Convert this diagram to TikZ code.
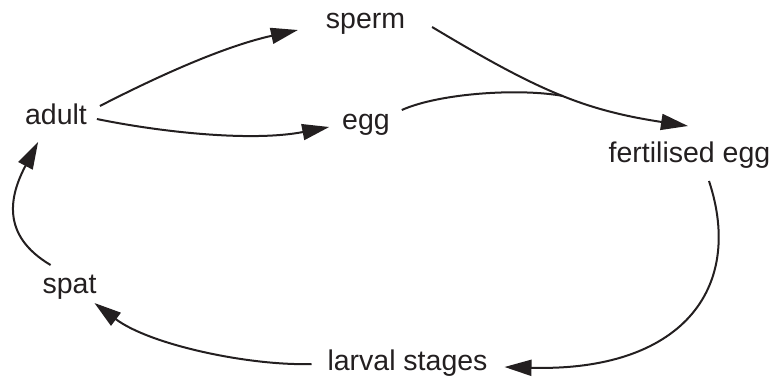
\documentclass[tikz,border=0pt]{standalone}
\usepackage{fontspec}
\setmainfont{Liberation Sans}
\usetikzlibrary{arrows.meta,calc}
\newcommand{\lblfont}{\fontsize{28.5}{34}\selectfont}
\definecolor{ink}{HTML}{231F20}
\tikzset{
  lbl/.style={anchor=base, inner sep=0pt, outer sep=0pt, font=\lblfont, text=ink},
  arr/.style={line width=2pt, -{Triangle[length=27pt,width=16pt]}, ink},
  plain/.style={line width=2pt, ink}
}
\begin{document}
\begin{tikzpicture}[x=1pt,y=-1pt]
\useasboundingbox (0,0) rectangle (774,381);
\node[lbl] (adult) at (56,124) {adult};
\node[lbl] (sperm) at (365.5,28) {sperm};
\node[lbl] (egg) at (366,129) {egg};
\node[lbl] (fert) at (689.5,162) {fertilised egg};
\node[lbl] (spat) at (69.5,293) {spat};
\node[lbl] (larval) at (407.5,370) {larval stages};
% adult -> sperm
\draw[arr] ($(adult.base east)+(13,-18)$) .. controls (170,70) and (230,45) .. ($(sperm.base west)+(-28,2)$);
% adult -> egg
\draw[arr] ($(adult.base east)+(10,-5)$) .. controls (160,132) and (251,142) .. ($(egg.base west)+(-13,-2)$);
% sperm -> fertilised egg
\draw[arr] ($(sperm.base east)+(27,-1)$) .. controls (537,90) and (583,110) .. ($(fert.base)+(-1.5,-36)$);
% egg -> joins sperm line
\coordinate (merge) at (563,96);
\draw[plain] ($(egg.base east)+(12,-19)$) .. controls (440,93) and (520,88) .. (merge);
% fertilised egg -> larval stages
\draw[arr] ($(fert.base)+(19.5,19)$) .. controls (745,290) and (680,372) .. ($(larval.base east)+(17,-3)$);
% larval stages -> spat
\draw[arr] ($(larval.base west)+(-16,-6)$) .. controls (250,366) and (150,345) .. ($(spat.base east)+(-2,10)$);
% spat -> adult
\draw[arr] ($(spat.base west)+(8,-28)$) .. controls (0,235) and (10,195) .. ($(adult.base west)+(13,18)$);
\end{tikzpicture}
\end{document}
